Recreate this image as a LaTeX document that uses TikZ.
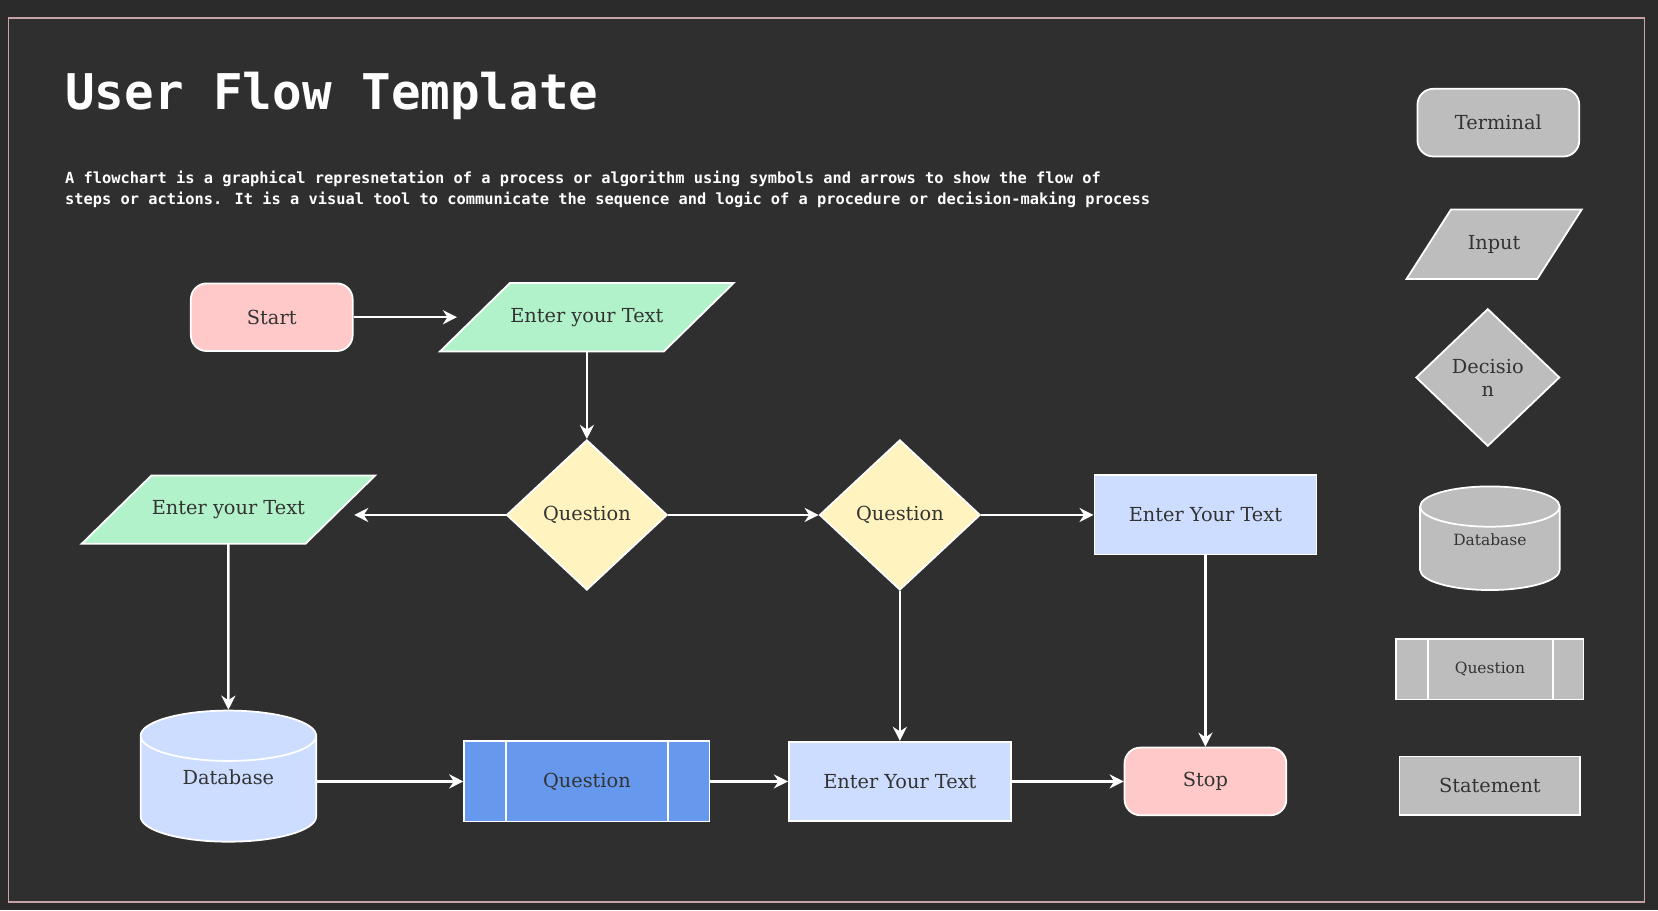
\documentclass[tikz,border=0pt]{standalone}
\usepackage{fontspec}
\setmainfont{DejaVu Serif}
\newfontfamily\titlefont{DejaVu Sans Mono}
\usetikzlibrary{shapes.geometric,calc,arrows.meta}
\definecolor{canvas}{HTML}{2B2B2B}
\definecolor{board}{HTML}{2F2F2F}
\definecolor{frame}{HTML}{C9A3A8}
\definecolor{pinkfill}{HTML}{FFC9C9}
\definecolor{greenfill}{HTML}{B2F2CB}
\definecolor{yellowfill}{HTML}{FFF3BF}
\definecolor{bluefill}{HTML}{CCDDFF}
\definecolor{deepblue}{HTML}{6699EE}
\definecolor{grayfill}{HTML}{BDBDBD}
\definecolor{ink}{HTML}{333333}
\def\px{0.10574mm}
\pgfdeclarelayer{back}
\pgfdeclarelayer{shade}
\pgfsetlayers{back,shade,main}
\tikzset{
  base/.style={draw=white, line width=0.5pt, text=ink, inner sep=0pt, font=\fontsize{5.5}{6.5}\selectfont},
  term/.style={base, rounded corners=4.5pt, minimum width=153*\px, minimum height=64*\px},
  io/.style={base, draw=none, minimum width=210*\px, minimum height=63*\px},
  dec/.style={base, diamond, aspect=1.07, minimum width=152*\px, minimum height=142*\px},
  proc/.style={base, minimum width=210*\px, minimum height=75*\px},
  db/.style={base, cylinder, shape border rotate=90, aspect=0.55, anchor=shape center, minimum width=166*\px, minimum height=124*\px},
  sub/.style={base, minimum width=232*\px, minimum height=76*\px},
  flow/.style={draw=white, line width=0.7pt, -{Stealth[length=4pt,width=4pt]}},
}
% parallelogram behind an io node
\newcommand\slantbox[3]{%
  \begin{pgfonlayer}{shade}
  \filldraw[draw=white, line width=0.5pt, fill=#2]
    ($(#1.north west)+(#3,0)$) -- ($(#1.north east)+(#3,0)$) --
    ($(#1.south east)+(-#3,0)$) -- ($(#1.south west)+(-#3,0)$) -- cycle;
  \end{pgfonlayer}}
\begin{document}
\begin{tikzpicture}[x=0.010574cm, y=-0.010574cm]

% board
\begin{pgfonlayer}{back}
\fill[canvas] (0,0) rectangle (1568,861);
\filldraw[fill=board, draw=frame, line width=0.4pt] (8,17) rectangle (1555,853);
\end{pgfonlayer}
\useasboundingbox (0,0) rectangle (1568,861);

% heading
\node[anchor=base west, text=white, inner sep=0pt, font=\titlefont\bfseries\fontsize{14}{16}\selectfont] (title) at (61,104) {User Flow Template};
\node[anchor=north west, text=white, align=left, inner sep=0pt,
      font=\titlefont\bfseries\fontsize{4.37}{6}\selectfont] (intro) at (61,161)
  {A flowchart is a graphical represnetation of a process or algorithm using symbols and arrows to show the flow of\\
   steps or actions. It is a visual tool to communicate the sequence and logic of a procedure or decision-making process};

% flow
\node[term, fill=pinkfill] (start) at (257,300) {Start};
\node[io] (text1) at (555,300) {Enter your Text};
\node[dec, fill=yellowfill] (ques1) at (555,487) {Question};
\node[dec, fill=yellowfill] (ques2) at (851,487) {Question};
\node[proc, fill=bluefill] (text3) at (1140,487) {Enter Your Text};
\node[io] (text2) at (216,482) {Enter your Text};
\node[db, fill=bluefill] (data) at (216,734) {\raisebox{2.5mm}{Database}};
\node[sub, fill=deepblue] (sub1) at (555,739) {Question};
\node[proc, fill=bluefill] (text4) at (851,739) {Enter Your Text};
\node[term, fill=pinkfill] (stop) at (1140,739) {Stop};
\slantbox{text1}{greenfill}{33}
\slantbox{text2}{greenfill}{33}
\draw[white, line width=0.5pt] ($(sub1.north west)+(40,0)$) -- ($(sub1.south west)+(40,0)$)
  ($(sub1.north east)+(-40,0)$) -- ($(sub1.south east)+(-40,0)$);
\coordinate (text2in) at (335,487);

\draw[flow] (start) -- ($(text1.west)+(-17,0)$);
\draw[flow] (text1) -- (ques1);
\draw[flow] (ques1) -- (text2in);
\draw[flow] (ques1) -- (ques2);
\draw[flow] (ques2) -- (text3);
\draw[flow] (ques2) -- (text4);
\draw[flow] (text3) -- (stop);
\draw[flow] (text2) -- (data);
\draw[flow] (data.east |- sub1.west) -- (sub1.west);
\draw[flow] (sub1) -- (text4);
\draw[flow] (text4) -- (stop);

% legend
\begin{scope}[every node/.append style={fill=grayfill, text=ink!80}]
\node[term] (termkey) at (1417,116) {Terminal};
\node[io, fill=none, minimum width=122*\px, minimum height=64*\px] (inkey) at (1413,231) {Input};
\node[dec, minimum width=136*\px, minimum height=130*\px, align=center] (deckey) at (1407,357) {Decisio\\n};
\node[db, minimum width=132*\px, minimum height=98*\px, font=\fontsize{4.4}{5}\selectfont] (dbkey) at (1409,509) {\raisebox{1.9mm}{Database}};
\node[sub, minimum width=177*\px, minimum height=57*\px, font=\fontsize{4.4}{5}\selectfont] (subkey) at (1409,633) {Question};
\node[proc, minimum width=171*\px, minimum height=55*\px] (statekey) at (1409,743) {Statement};
\end{scope}
\slantbox{inkey}{grayfill}{21}
\draw[white, line width=0.5pt] ($(subkey.north west)+(31,0)$) -- ($(subkey.south west)+(31,0)$)
  ($(subkey.north east)+(-30,0)$) -- ($(subkey.south east)+(-30,0)$);

\end{tikzpicture}
\end{document}
